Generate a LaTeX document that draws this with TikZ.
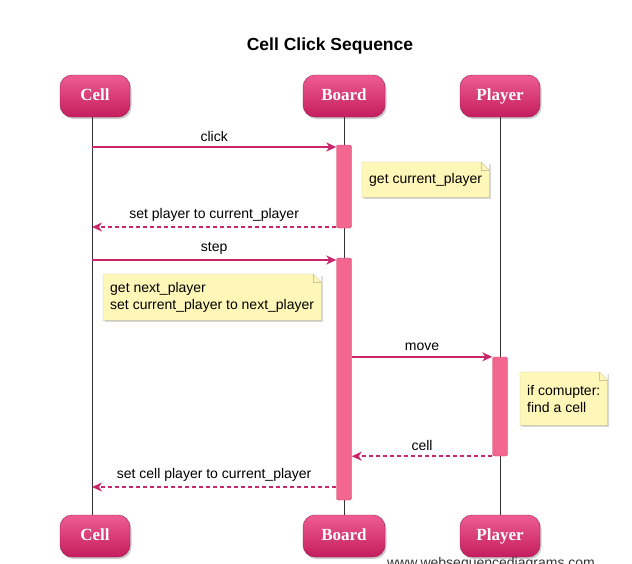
\documentclass[tikz,border=0pt]{standalone}
\usepackage{fontspec}
\setmainfont{Liberation Sans}
\newfontfamily\boxfont{Liberation Serif}
\usepackage{tikz}
\usetikzlibrary{arrows.meta,shadows}

\definecolor{msgcol}{HTML}{C8286A}
\definecolor{boxtop}{HTML}{EE5C92}
\definecolor{boxbot}{HTML}{C41D5D}
\definecolor{barfill}{HTML}{F2668F}
\definecolor{bardraw}{HTML}{D9406F}
\definecolor{notefill}{HTML}{FFF7B8}
\definecolor{notedraw}{HTML}{CFC79A}

\newcommand{\notefold}[1]{%
  \fill[white] ([xshift=-8pt]#1.north east) -- (#1.north east) -- ([yshift=-8pt]#1.north east) -- cycle;
  \draw[notedraw] (#1.south west) -- (#1.south east) -- ([yshift=-8pt]#1.north east)
    -- ([xshift=-8pt]#1.north east) -- (#1.north west) -- cycle;
  \draw[notedraw] ([xshift=-8pt]#1.north east) |- ([yshift=-8pt]#1.north east);}

\begin{document}
\begin{tikzpicture}[x=1pt,y=-1pt,
    actor/.style={rounded corners=12pt, draw=boxbot!80!black, top color=boxtop, bottom color=boxbot,
      text=white, font=\boxfont\fontsize{17}{17}\selectfont\bfseries, minimum height=42pt,
      text height=11pt, text depth=3pt,
      drop shadow={shadow xshift=1.5pt, shadow yshift=-2pt, fill=black!40}},
    actbar/.style={rounded corners=2pt, fill=barfill, draw=bardraw, minimum width=15pt, inner sep=0pt},
    lifeline/.style={draw=black!80, line width=0.8pt},
    msg/.style={draw=msgcol, line width=1.6pt, -{Stealth[length=10pt, width=9pt, inset=3pt]}},
    ret/.style={msg, dash pattern=on 4pt off 3pt},
    msglabel/.style={font=\fontsize{14}{16}\selectfont, inner sep=0pt},
    notebox/.style={fill=notefill, draw=none, align=left, inner xsep=7pt, inner ysep=6pt,
      font=\fontsize{14}{17}\selectfont,
      drop shadow={shadow xshift=2pt, shadow yshift=-2pt, fill=black!30}}]
  \useasboundingbox (0,0) rectangle (632,563);

  \node[font=\fontsize{17.5}{20}\selectfont\bfseries] (title) at (330,46) {Cell Click Sequence};

  % participants
  \node[actor, minimum width=70pt] (celltop) at (95,96) {Cell};
  \node[actor, minimum width=82pt] (boardtop) at (344,96) {Board};
  \node[actor, minimum width=80pt] (playertop) at (500,96) {Player};
  \node[actor, minimum width=70pt] (cellbot) at (95,536) {Cell};
  \node[actor, minimum width=82pt] (boardbot) at (344,536) {Board};
  \node[actor, minimum width=80pt] (playerbot) at (500,536) {Player};

  % lifelines
  \draw[lifeline] (92,117) -- (92,515);
  \draw[lifeline] (boardtop.south) -- (boardbot.north);
  \draw[lifeline] (playertop.south) -- (playerbot.north);

  % activations
  \node[actbar, minimum height=83pt] (bar1) at (344,186.5) {};
  \node[actbar, minimum height=242pt] (bar2) at (344,379) {};
  \node[actbar, minimum height=99pt] (bar3) at (500,406.5) {};

  % lifeline points
  \coordinate (c1) at (92,147);
  \coordinate (c2) at (92,227);
  \coordinate (c3) at (92,260);
  \coordinate (c4) at (92,487);

  % messages
  \draw[msg] (c1) -- (bar1.west |- c1) node[msglabel, midway, above=5pt] {click};
  \draw[ret] (bar1.west |- c2) -- (c2) node[msglabel, midway, above=5pt] {set player to current\_player};
  \draw[msg] (c3) -- (bar2.west |- c3) node[msglabel, midway, above=5pt] {step};
  \draw[msg] (bar2.east |- bar3.north) -- (bar3.north west) node[msglabel, midway, above=5pt] {move};
  \draw[ret] (bar3.south west) -- (bar2.east |- bar3.south) node[msglabel, midway, above=5pt] {cell};
  \draw[ret] (bar2.west |- c4) -- (c4) node[msglabel, midway, above=5pt] {set cell player to current\_player};

  % notes
  \node[notebox, anchor=north west, minimum height=35pt] (note1) at (362,162) {get current\_player};
  \notefold{note1}
  \node[notebox, anchor=north west, minimum height=46pt] (note2) at (103,274) {get next\_player\\set current\_player to next\_player};
  \notefold{note2}
  \node[notebox, anchor=north west, minimum height=53pt] (note3) at (520,372) {if comupter:\\find a cell};
  \notefold{note3}

  \node[font=\fontsize{14}{16}\selectfont, text=black!80, anchor=base] (site) at (491,567) {www.websequencediagrams.com};
\end{tikzpicture}
\end{document}
